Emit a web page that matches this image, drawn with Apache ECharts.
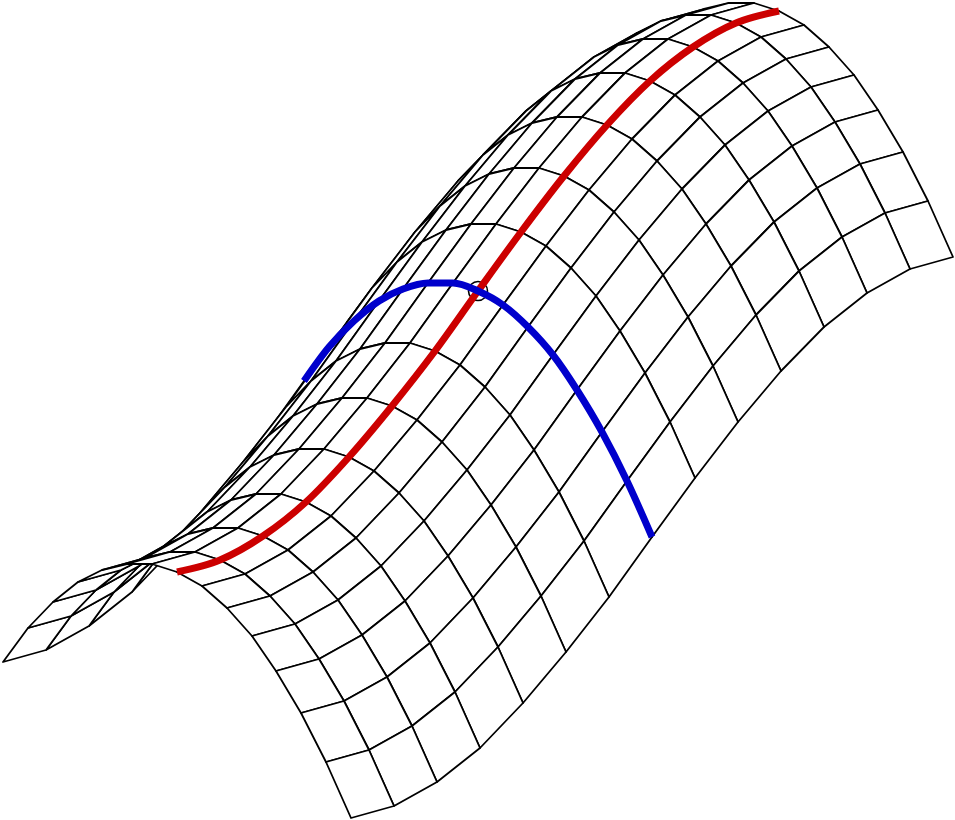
<!DOCTYPE html>
<html><head><meta charset="utf-8">
<style>html,body{margin:0;padding:0;background:#fff}#c{width:955px;height:820px}</style>
<script src="https://cdn.jsdelivr.net/npm/echarts@6/dist/echarts.min.js"></script>
</head><body><div id="c"></div>
<script>
// Values: the surface is a translation surface,
// a lengthwise edge profile plus a crosswise arch profile.
const edgeX = [351,394,437,480,523,566,609,652,695,738,781,824,867,910,953];
const edgeHeight = [2,14,38,72,117,168,223,283,342,398,449,493,527,551,563];
const archRun = [0,25,50,75,99,124,149,174,199,224,249,273,298,323,348];
const archRise = [0,56,105,147,182,210,232,246,254,254,248,236,216,190,156];
const ridgeColumn = 7;   // arch index followed by the red line
const crossRow = 7;      // edge index followed by the blue line

const nodeAt = (i, j) => [edgeX[i] - archRun[j], edgeHeight[i] + archRise[j]];

// Far cells first, so that nearer cells hide them.
const cells = [];
for (let i = edgeX.length - 2; i >= 0; i--) {
  for (let j = archRun.length - 2; j >= 0; j--) {
    cells.push([...nodeAt(i, j), ...nodeAt(i + 1, j), ...nodeAt(i + 1, j + 1), ...nodeAt(i, j + 1)]);
  }
}
const ridgeLine = edgeX.map((_, i) => nodeAt(i, ridgeColumn));
const crossLine = archRun.map((_, j) => nodeAt(crossRow, j));
const crossing = [nodeAt(crossRow, ridgeColumn)];

const chart = echarts.init(document.getElementById('c'), null, {renderer: 'canvas'});
chart.setOption({
  animation: false,
  backgroundColor: '#fff',
  grid: {left: 0, right: 0, top: 0, bottom: 0},
  xAxis: {type: 'value', min: 0, max: 955, show: false},
  yAxis: {type: 'value', min: 0, max: 820, show: false},
  series: [
    {
      type: 'custom', z: 1, silent: true, clip: false, data: cells,
      dimensions: ['a','b','c','d','e','f','g','h'],
      encode: {x: [0,2,4,6], y: [1,3,5,7]},
      renderItem(params, api) {
        const points = [0,2,4,6].map(k => api.coord([api.value(k), api.value(k + 1)]));
        return {type: 'polygon', shape: {points},
          style: {fill: '#fff', stroke: '#000', lineWidth: 1.8, lineJoin: 'round'}};
      }
    },
    {
      type: 'scatter', z: 2, silent: true, clip: false, data: crossing,
      symbol: 'circle', symbolSize: 19,
      itemStyle: {color: 'rgba(0,0,0,0)', borderColor: '#000', borderWidth: 1.6, opacity: 1}
    },
    {
      type: 'line', z: 3, silent: true, clip: false, data: ridgeLine, symbol: 'none', smooth: 0.33,
      lineStyle: {color: '#cc0000', width: 7, cap: 'butt', join: 'round'}
    },
    {
      type: 'line', z: 4, silent: true, clip: false, data: crossLine, symbol: 'none', smooth: 0.33,
      lineStyle: {color: '#0000cc', width: 7, cap: 'butt', join: 'round'}
    }
  ]
});
</script></body></html>
